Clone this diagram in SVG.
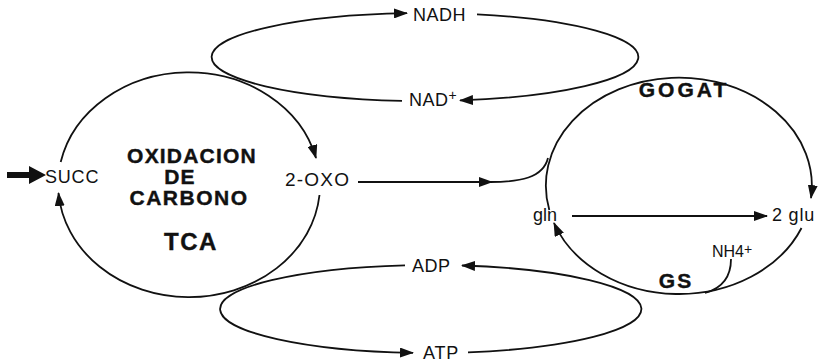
<svg xmlns="http://www.w3.org/2000/svg" width="821" height="362" viewBox="0 0 821 362">
  <defs>
    <marker id="arr" markerUnits="userSpaceOnUse" markerWidth="14" markerHeight="10" refX="13" refY="5" orient="auto">
      <path d="M0,0 L14,5 L0,10 Z" fill="#111"/>
    </marker>
  </defs>
  <style>
    .ln { fill: none; stroke: #111; stroke-width: 1.8; }
    .b { font-family: "Liberation Sans", Arial, sans-serif; font-weight: bold; fill: #111; stroke: #111; stroke-width: 0.4; }
    .r { font-family: "Liberation Sans", Arial, sans-serif; fill: #111; }
  </style>
  <rect width="821" height="362" fill="#fff"/>

  <g id="connectors">
    <!-- TCA cycle: SUCC over the top to 2-OXO, then back round the bottom -->
    <path class="ln" d="M60.7,162 A131,113 0 0 1 316,158" marker-end="url(#arr)"/>
    <path class="ln" d="M319.5,195 A131,113 0 0 1 58.5,193" marker-end="url(#arr)"/>
    <!-- NAD+ / NADH loop -->
    <path class="ln" d="M402,100.8 A213,44 0 0 1 407,13.2" marker-end="url(#arr)"/>
    <path class="ln" d="M477,14.3 A213,44 0 0 1 460,100.4" marker-end="url(#arr)"/>
    <!-- ADP / ATP loop -->
    <path class="ln" d="M468,352.3 A211,44 0 0 0 462,265.5" marker-end="url(#arr)"/>
    <path class="ln" d="M405,265.3 A211,44 0 0 0 413,352.8" marker-end="url(#arr)"/>
    <!-- GOGAT / GS cycle -->
    <path class="ln" d="M549.3,210 A133,108 0 1 1 811,198" marker-end="url(#arr)"/>
    <path class="ln" d="M801.5,228 A133,108 0 0 1 554,223" marker-end="url(#arr)"/>
    <!-- 2-OXO feeding into GOGAT -->
    <path class="ln" d="M358,182 L492,182" marker-end="url(#arr)"/>
    <path class="ln" d="M490,182 C520,182 543,178 548,158"/>
    <!-- gln to 2 glu -->
    <path class="ln" d="M572,216 L767,216" marker-end="url(#arr)"/>
    <!-- NH4+ entering at GS -->
    <path class="ln" d="M731,259 C731,276 723,288 705,293"/>
  </g>

  <g id="input-arrow">
    <path d="M7,172 L29,172 L29,166 L46,175 L29,184 L29,178 L7,178 Z" fill="#111"/>
  </g>

  <g id="tca">
    <text class="b" x="192" y="163" font-size="21" letter-spacing="1.2" text-anchor="middle">OXIDACION</text>
    <text class="b" x="180" y="184" font-size="21" letter-spacing="1.2" text-anchor="middle">DE</text>
    <text class="b" x="189" y="205" font-size="21" letter-spacing="1.5" text-anchor="middle">CARBONO</text>
    <text class="b" x="191" y="250" font-size="24" letter-spacing="1.5" text-anchor="middle">TCA</text>
  </g>
  <g id="succ"><text class="r" x="45" y="183" font-size="18" letter-spacing="0.8">SUCC</text></g>
  <g id="oxo"><text class="r" x="285" y="186" font-size="19" letter-spacing="1.2">2-OXO</text></g>
  <g id="nadh"><text class="r" x="413" y="21" font-size="18" letter-spacing="0.5">NADH</text></g>
  <g id="nad"><text class="r" x="409" y="106" font-size="18" letter-spacing="0.5">NAD<tspan font-size="14" dy="-6">+</tspan></text></g>
  <g id="adp"><text class="r" x="412" y="272" font-size="18" letter-spacing="0.5">ADP</text></g>
  <g id="atp"><text class="r" x="423" y="359" font-size="18" letter-spacing="0.8">ATP</text></g>
  <g id="gogat"><text class="b" x="684" y="97" font-size="21" letter-spacing="3" text-anchor="middle">GOGAT</text></g>
  <g id="gln"><text class="r" x="533" y="221" font-size="18">gln</text></g>
  <g id="glu"><text class="r" x="772" y="221" font-size="18" letter-spacing="0.8">2 glu</text></g>
  <g id="nh4"><text class="r" x="712" y="257" font-size="16">NH4<tspan font-size="14" dy="-3">+</tspan></text></g>
  <g id="gs"><text class="b" x="676" y="288" font-size="21" letter-spacing="2" text-anchor="middle">GS</text></g>
</svg>
